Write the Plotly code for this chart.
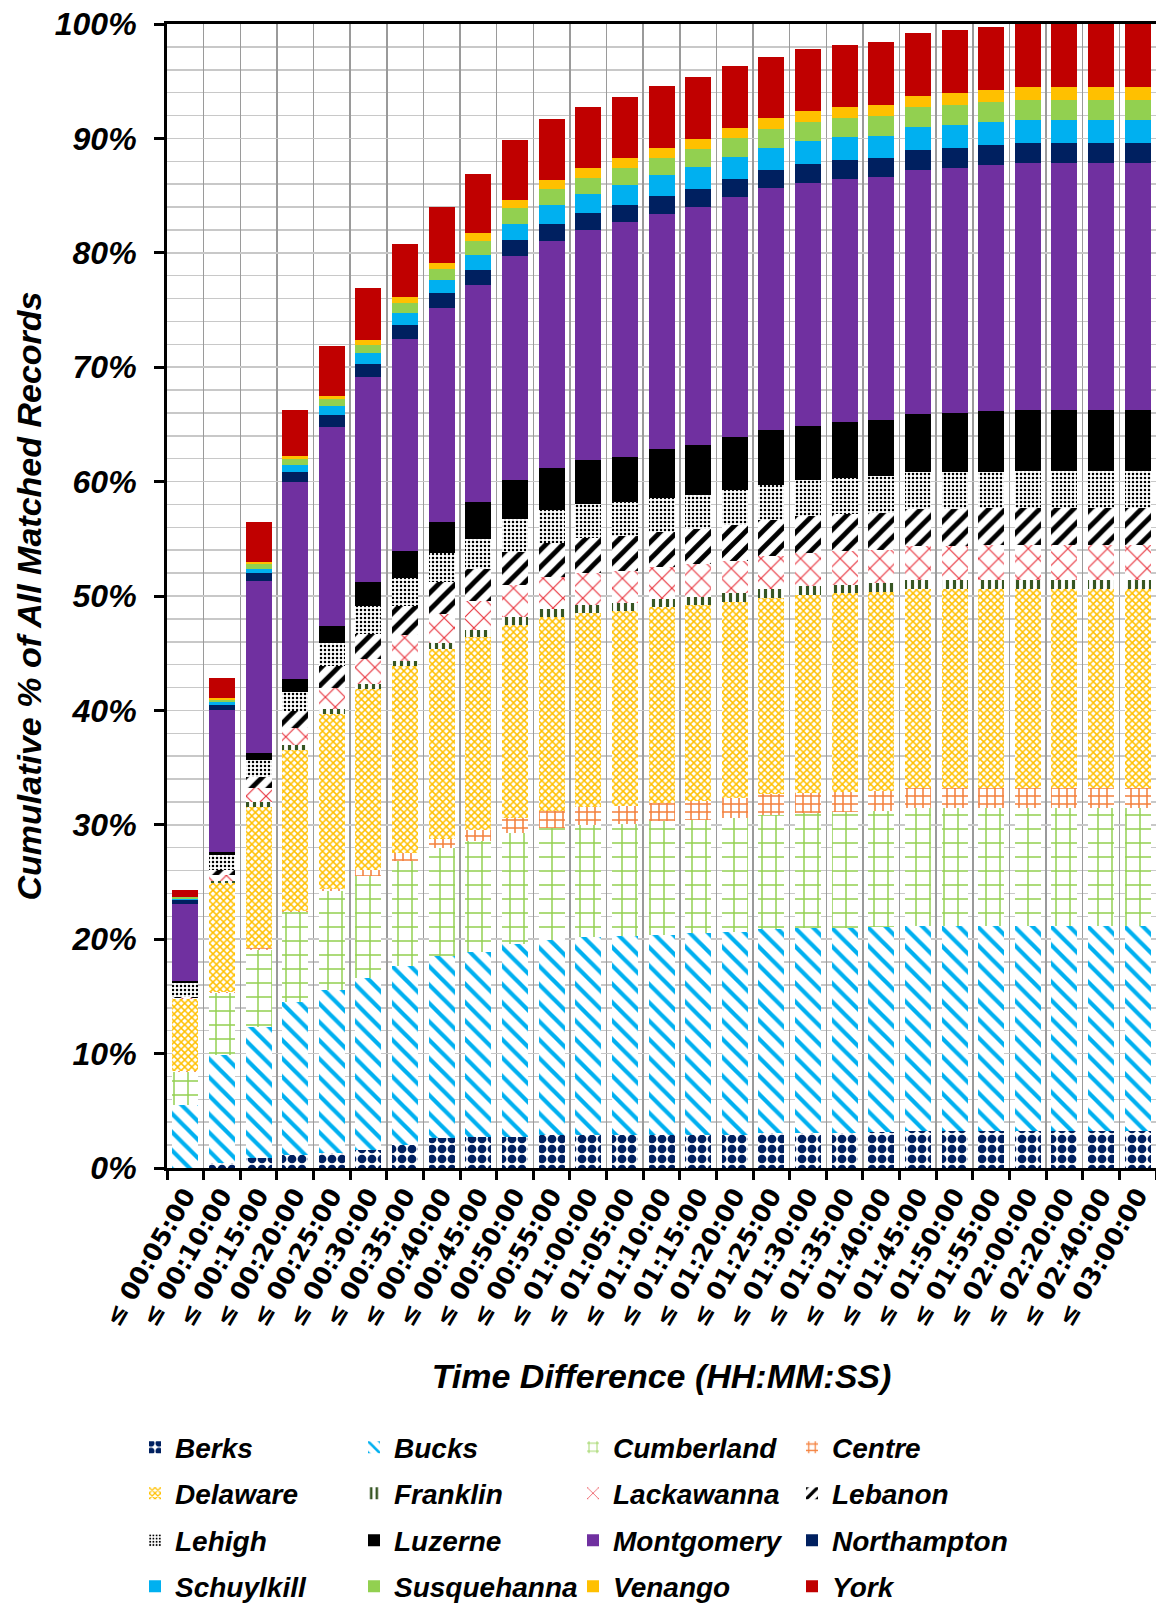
import plotly.graph_objects as go

# ---------------- data (segment heights, % of all matched records) ----------------
times = ["00:05:00", "00:10:00", "00:15:00", "00:20:00", "00:25:00", "00:30:00", "00:35:00",
         "00:40:00", "00:45:00", "00:50:00", "00:55:00", "01:00:00", "01:05:00", "01:10:00",
         "01:15:00", "01:20:00", "01:25:00", "01:30:00", "01:35:00", "01:40:00", "01:45:00",
         "01:50:00", "01:55:00", "02:00:00", "02:20:00", "02:40:00", "03:00:00"]
categories = ["\u2264 " + t for t in times]

berks = [0.0, 0.4, 0.9, 1.1, 1.3, 1.6, 2.0, 2.6, 2.7, 2.7, 2.9, 2.9, 2.9, 2.9, 2.9, 2.9,
         3.1, 3.1, 3.1, 3.15, 3.2, 3.2, 3.2, 3.2, 3.2, 3.2, 3.2]
bucks = [5.5, 9.5, 11.4, 13.4, 14.3, 15.0, 15.7, 15.9, 16.2, 16.9, 17.05, 17.3, 17.35, 17.5,
         17.6, 17.7, 17.75, 17.85, 17.85, 17.9, 17.95, 17.95, 17.95, 17.95, 17.95, 17.95, 17.95]
cumberland = [2.9, 5.4, 6.8, 7.9, 8.6, 8.9, 9.1, 9.5, 9.7, 9.7, 9.75, 9.8, 9.85, 9.9, 9.95,
              10.0, 10.05, 10.1, 10.15, 10.15, 10.3, 10.3, 10.3, 10.3, 10.3, 10.3, 10.3]
centre = [0.05, 0.05, 0.1, 0.1, 0.15, 0.55, 0.7, 0.75, 0.95, 1.3, 1.5, 1.55, 1.55, 1.6, 1.6,
          1.7, 1.75, 1.75, 1.75, 1.75, 1.75, 1.75, 1.75, 1.75, 1.75, 1.75, 1.75]
delaware = [6.3, 9.6, 12.4, 14.0, 15.35, 15.8, 16.4, 16.6, 16.85, 16.9, 16.95, 17.0, 17.05,
            17.1, 17.15, 17.2, 17.2, 17.3, 17.4, 17.4, 17.4, 17.4, 17.45, 17.45, 17.45, 17.45, 17.45]
franklin = [0.0, 0.1, 0.4, 0.45, 0.45, 0.45, 0.45, 0.5, 0.6, 0.65, 0.7, 0.7, 0.7, 0.72, 0.72,
            0.74, 0.75, 0.75, 0.75, 0.75, 0.76, 0.76, 0.76, 0.76, 0.76, 0.76, 0.76]
lackawanna = [0.1, 0.6, 1.2, 1.5, 1.8, 2.2, 2.25, 2.6, 2.6, 2.8, 2.8, 2.8, 2.8, 2.8, 2.85,
              2.85, 2.9, 2.9, 2.95, 2.95, 3.05, 3.05, 3.05, 3.05, 3.05, 3.05, 3.05]
lebanon = [0.1, 0.4, 1.0, 1.5, 1.9, 2.2, 2.5, 2.75, 2.8, 2.9, 3.0, 3.05, 3.05, 3.1, 3.1, 3.15,
           3.15, 3.2, 3.2, 3.2, 3.22, 3.22, 3.22, 3.22, 3.22, 3.22, 3.22]
lehigh = [1.2, 1.3, 1.5, 1.7, 2.0, 2.4, 2.5, 2.55, 2.55, 2.85, 2.85, 2.9, 2.95, 2.95, 3.0,
          3.05, 3.05, 3.15, 3.2, 3.2, 3.2, 3.2, 3.2, 3.25, 3.25, 3.25, 3.25]
luzerne = [0.2, 0.3, 0.6, 1.1, 1.5, 2.15, 2.35, 2.7, 3.3, 3.45, 3.65, 3.9, 3.95, 4.3, 4.35,
           4.6, 4.8, 4.8, 4.9, 4.9, 5.1, 5.2, 5.3, 5.3, 5.3, 5.3, 5.3]
montgomery = [6.7, 12.4, 15.0, 17.2, 17.4, 17.9, 18.5, 18.75, 18.95, 19.6, 19.9, 20.1, 20.5,
              20.55, 20.8, 21.0, 21.15, 21.2, 21.2, 21.25, 21.3, 21.4, 21.5, 21.65, 21.65, 21.65, 21.65]
northampton = [0.4, 0.45, 0.7, 0.9, 1.1, 1.15, 1.25, 1.25, 1.3, 1.4, 1.45, 1.45, 1.5, 1.55,
               1.6, 1.6, 1.6, 1.65, 1.65, 1.65, 1.75, 1.75, 1.75, 1.75, 1.75, 1.75, 1.75]
schuylkill = [0.1, 0.25, 0.4, 0.6, 0.8, 0.95, 1.0, 1.15, 1.3, 1.4, 1.65, 1.7, 1.8, 1.85, 1.9,
              1.92, 1.95, 2.0, 2.0, 2.0, 2.0, 2.0, 2.0, 2.0, 2.0, 2.0, 2.0]
susquehanna = [0.1, 0.2, 0.4, 0.55, 0.6, 0.65, 0.9, 0.95, 1.25, 1.4, 1.4, 1.4, 1.45, 1.5,
               1.55, 1.6, 1.6, 1.7, 1.7, 1.72, 1.74, 1.74, 1.74, 1.74, 1.74, 1.74, 1.74]
venango = [0.07, 0.15, 0.15, 0.2, 0.25, 0.45, 0.5, 0.6, 0.65, 0.7, 0.78, 0.82, 0.85, 0.87,
           0.9, 0.93, 0.94, 0.95, 0.98, 0.98, 1.0, 1.05, 1.05, 1.1, 1.1, 1.1, 1.1]
york = [0.6, 1.7, 3.55, 4.1, 4.35, 4.55, 4.7, 4.85, 5.2, 5.25, 5.4, 5.4, 5.4, 5.4, 5.4, 5.4,
        5.4, 5.4, 5.42, 5.45, 5.5, 5.5, 5.52, 5.53, 5.53, 5.53, 5.53]

# ---------------- styles ----------------
# (name, values, colour, pattern shape, pattern size, solidity)
series = [
    ("Berks", berks, "#002060", ".", 10, 0.6),
    ("Bucks", bucks, "#00B0F0", "\\", 13, 0.32),
    ("Cumberland", cumberland, "#92D050", "+", 14, 0.2),
    ("Centre", centre, "#F4803C", "+", 8, 0.35),
    ("Delaware", delaware, "#FFC000", "x", 5, 0.5),
    ("Franklin", franklin, "#375623", "|", 7, 0.45),
    ("Lackawanna", lackawanna, "#E8323C", "x", 14, 0.16),
    ("Lebanon", lebanon, "#000000", "/", 12, 0.4),
    ("Lehigh", lehigh, "#000000", ".", 4, 0.3),
    ("Luzerne", luzerne, "#000000", "", 8, 0.3),
    ("Montgomery", montgomery, "#7030A0", "", 8, 0.3),
    ("Northampton", northampton, "#002060", "", 8, 0.3),
    ("Schuylkill", schuylkill, "#00B0F0", "", 8, 0.3),
    ("Susquehanna", susquehanna, "#92D050", "", 8, 0.3),
    ("Venango", venango, "#FFC000", "", 8, 0.3),
    ("York", york, "#C00000", "", 8, 0.3),
]

fig = go.Figure()
for i, (name, vals, col, shape, psize, sol) in enumerate(series):
    row = i // 4
    legend_id = "legend" if row == 0 else "legend%d" % (row + 1)
    marker = dict(color=col, line=dict(width=0))
    if shape:
        marker["pattern"] = dict(shape=shape, fgcolor=col, bgcolor="white",
                                 size=psize, solidity=sol, fillmode="replace")
    fig.add_trace(go.Bar(x=categories, y=vals, name=name, marker=marker,
                         legend=legend_id, hoverinfo="skip"))

bold_it = dict(family="Liberation Sans, Arial, sans-serif", color="black",
               weight="bold", style="italic")

W, H = 1156, 1604
ml, mr, mt, mb = 167, 0, 24, 436
plot_h = H - mt - mb
plot_w = W - ml - mr


def px_to_paper_y(py):
    return (H - mb - py) / plot_h


def px_to_paper_x(px):
    return (px - ml) / plot_w


legend_rows_px = [1447.5, 1493.5, 1540.5, 1586.5]
legend_common = dict(orientation="h", xanchor="left", yanchor="middle",
                     x=px_to_paper_x(135), entrywidth=174, entrywidthmode="pixels",
                     font=dict(size=28, **bold_it), traceorder="normal",
                     bgcolor="rgba(0,0,0,0)", itemclick=False)

layout_legends = {}
for r, py in enumerate(legend_rows_px):
    key = "legend" if r == 0 else "legend%d" % (r + 1)
    layout_legends[key] = dict(legend_common, y=px_to_paper_y(py))

fig.update_layout(
    width=W, height=H, autosize=False,
    margin=dict(l=ml, r=mr, t=mt, b=mb, pad=0, autoexpand=False),
    barmode="stack", bargap=0.29,
    plot_bgcolor="white", paper_bgcolor="white",
    showlegend=True, hovermode=False,
    **layout_legends,
)

fig.update_xaxes(
    type="category", range=[-0.5, 26.5],
    tickson="boundaries", ticks="outside", ticklen=9, tickwidth=3, tickcolor="black",
    showgrid=True, gridcolor="#9a9a9a", gridwidth=1.5,
    showline=True, linecolor="black", linewidth=3, mirror=True,
    tickangle=-60, ticklabeloverflow="allow",
    tickfont=dict(family="DejaVu Sans, sans-serif", size=25, color="black", weight="bold"),
    title=dict(text="Time Difference (HH:MM:SS)", font=dict(size=34, **bold_it), standoff=35),
    automargin=False,
)

fig.update_yaxes(
    range=[0, 100], tick0=0, dtick=10, ticksuffix="%",
    ticks="outside", ticklen=10, tickwidth=3, tickcolor="black",
    showgrid=True, gridcolor="#c8c8c8", gridwidth=1.5,
    minor=dict(dtick=2, showgrid=True, gridcolor="#c8c8c8", gridwidth=1.5, ticks=""),
    showline=True, linecolor="black", linewidth=3, zeroline=False,
    tickfont=dict(size=32, **bold_it),
    ticklabelstandoff=11, ticklabeloverflow="allow",
    title=dict(text="Cumulative % of All Matched Records", font=dict(size=34, **bold_it),
               standoff=3),
    automargin=False,
)

fig.write_html(
    "out.html",
    config={"displayModeBar": False, "staticPlot": True},
    post_script="document.body.style.margin='0px';document.body.style.padding='0px';"
                "document.documentElement.style.overflow='hidden';",
)
